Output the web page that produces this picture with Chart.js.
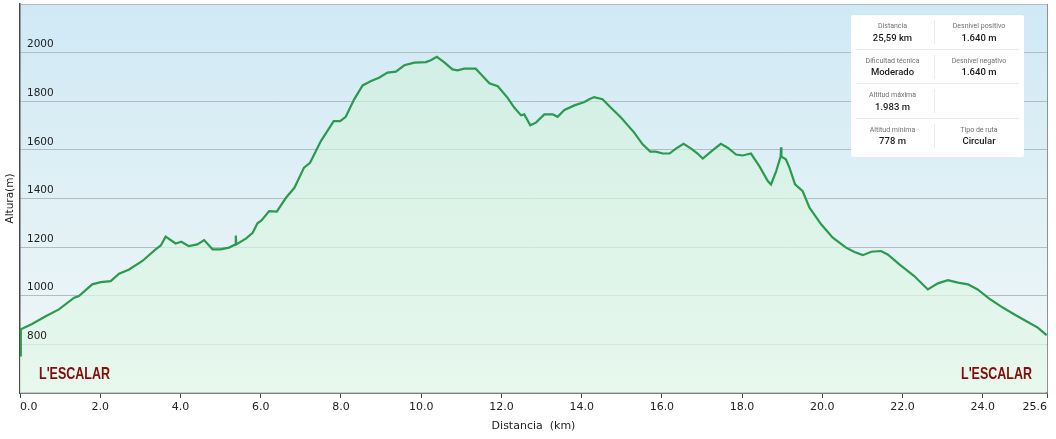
<!DOCTYPE html>
<html><head><meta charset="utf-8">
<script src="https://cdn.jsdelivr.net/npm/chart.js@4.4.1/dist/chart.umd.min.js"></script>
<style>
html,body{margin:0;padding:0;background:#fff;}
#wrap{position:relative;width:1056px;height:439px;overflow:hidden;}
canvas{display:block;}
#info{position:absolute;left:851px;top:15px;width:173px;height:142px;background:#fff;border-radius:2px;font-family:Roboto,'Noto Sans',sans-serif;}
.cell{position:absolute;height:34px;text-align:center;}
.c1{left:0;width:83px}
.c2{left:83px;width:90px}
.lab{position:absolute;left:0;right:0;top:6px;font-size:7px;color:#707070;line-height:10px;white-space:nowrap}
.val{position:absolute;left:0;right:0;top:16.5px;font-size:9.5px;color:#1a1a1a;font-weight:500;line-height:12px;white-space:nowrap}
.sep{position:absolute;left:5px;right:5px;height:1px;background:#ebebeb}
.vdiv{position:absolute;left:83px;width:1px;background:#ebebeb}
</style></head>
<body>
<div id="wrap">
<canvas id="c" width="1056" height="439"></canvas>
<div id="info"></div>
</div>
<script>
// ---- data ----
const distanceKm = [0.00,0.02,0.30,0.64,0.97,1.35,1.47,1.80,2.01,2.26,2.47,2.72,3.05,3.38,3.51,3.63,3.88,4.02,4.21,4.42,4.59,4.80,5.00,5.21,5.37,5.38,5.39,5.63,5.80,5.92,6.02,6.21,6.40,6.63,6.84,7.08,7.23,7.50,7.82,7.98,8.12,8.33,8.54,8.75,8.95,9.16,9.37,9.58,9.83,10.12,10.24,10.39,10.57,10.78,10.91,11.07,11.36,11.49,11.70,11.91,12.15,12.32,12.49,12.57,12.72,12.86,13.07,13.28,13.40,13.57,13.82,14.07,14.19,14.31,14.52,14.73,14.98,15.31,15.52,15.71,15.85,16.02,16.19,16.35,16.54,16.73,16.89,17.02,17.27,17.47,17.64,17.85,18.01,18.22,18.43,18.64,18.72,18.85,18.96,18.97,18.98,19.09,19.18,19.32,19.51,19.68,19.97,20.26,20.59,20.80,21.01,21.22,21.46,21.63,21.92,22.29,22.63,22.88,23.13,23.38,23.63,23.87,24.16,24.46,24.79,25.12,25.37,25.59];
const altitudeM = [755,862,884,916,944,992,999,1047,1056,1060,1091,1108,1143,1191,1207,1243,1215,1222,1204,1211,1229,1191,1191,1198,1211,1248,1211,1235,1259,1298,1310,1348,1346,1403,1444,1527,1547,1636,1718,1718,1736,1808,1865,1883,1897,1918,1922,1948,1959,1961,1969,1983,1961,1931,1927,1934,1934,1911,1874,1862,1815,1774,1742,1746,1701,1712,1746,1746,1736,1764,1783,1797,1808,1817,1808,1773,1733,1671,1623,1593,1593,1585,1585,1605,1625,1605,1585,1564,1599,1625,1609,1581,1577,1585,1533,1472,1458,1513,1572,1611,1572,1561,1527,1458,1430,1362,1294,1239,1198,1180,1167,1181,1184,1170,1129,1081,1026,1051,1064,1054,1047,1026,988,955,923,892,869,838];
const xTickValues = [0,2,4,6,8,10,12,14,16,18,20,22,24,25.6];
const yGridValues = [600,800,1000,1200,1400,1600,1800,2000,2200];
const yTickLabels = [800,1000,1200,1400,1600,1800,2000];
const endLabels = ["L'ESCALAR","L'ESCALAR"];
const infoLabels = [["Distancia","Desnivel positivo"],["Dificultad técnica","Desnivel negativo"],["Altitud máxima",""],["Altitud mínima","Tipo de ruta"]];
const infoValues = [["25,59 km","1.640 m"],["Moderado","1.640 m"],["1.983 m",""],["778 m","Circular"]];

// ---- info box ----
const info = document.getElementById('info');
const rowTops = [0,34.6,69.2,103.8];
infoLabels.forEach((r,i)=>{
  r.forEach((lab,j)=>{
    const d = document.createElement('div');
    d.className = 'cell ' + (j===0?'c1':'c2');
    d.style.top = rowTops[i]+'px';
    d.innerHTML = '<div class="lab"></div><div class="val"></div>';
    d.querySelector('.lab').textContent = lab;
    d.querySelector('.val').textContent = infoValues[i][j];
    info.appendChild(d);
  });
  const v = document.createElement('div');
  v.className='vdiv'; v.style.top=(rowTops[i]+5)+'px'; v.style.height='24px';
  info.appendChild(v);
  if(i>0){const s=document.createElement('div');s.className='sep';s.style.top=(rowTops[i]-1)+'px';info.appendChild(s);}
});

// ---- plugins ----
const tickFont = {family:'"DejaVu Sans", Verdana, sans-serif', size:10.5};
const bgPlugin = {
  id:'bg',
  beforeDraw(chart){
    const {ctx, chartArea:a} = chart;
    const g = ctx.createLinearGradient(0,a.top,0,a.bottom);
    g.addColorStop(0,'#cfe9f5');
    g.addColorStop(0.55,'#e2f1f6');
    g.addColorStop(1,'#f1f7f7');
    ctx.save(); ctx.fillStyle=g; ctx.fillRect(a.left,a.top,a.right-a.left,a.bottom-a.top); ctx.restore();
  },
  afterDatasetsDraw(chart){
    const {ctx, chartArea:a} = chart;
    const ys = chart.scales.y;
    ctx.save();
    ctx.font = tickFont.size+'px '+tickFont.family;
    ctx.fillStyle='#222'; ctx.textAlign='left'; ctx.textBaseline='middle';
    yTickLabels.forEach(v=>{ ctx.fillText(String(v), a.left+7, ys.getPixelForValue(v)-8); });
    ctx.restore();
  },
  afterDraw(chart){
    const {ctx, chartArea:a} = chart;
    ctx.save();
    ctx.strokeStyle='#8c9194'; ctx.lineWidth=1;
    ctx.beginPath(); ctx.moveTo(a.right+0.5,a.top); ctx.lineTo(a.right+0.5,a.bottom); ctx.stroke();
    ctx.font='bold 16.5px "Liberation Sans", Arial, sans-serif';
    ctx.fillStyle='#870b0b'; ctx.textBaseline='middle';
    ctx.textAlign='left'; ctx.fillText(endLabels[0], a.left+19, a.bottom-19, 71);
    ctx.textAlign='right'; ctx.fillText(endLabels[1], a.right-15, a.bottom-19, 71);
    ctx.restore();
  }
};

new Chart(document.getElementById('c'), {
  type:'line',
  data:{datasets:[{
    data: distanceKm.map((d,i)=>({x:d,y:altitudeM[i]})),
    borderColor:'#2a9a4c', borderWidth:2.2, pointRadius:0, tension:0,
    fill:'start',
    backgroundColor:(c)=>{
      const {ctx, chartArea:a} = c.chart; if(!a) return 'rgba(200,240,215,0.4)';
      const g = ctx.createLinearGradient(0,a.top,0,a.bottom);
      g.addColorStop(0,'rgba(205,240,215,0.55)');
      g.addColorStop(1,'rgba(228,248,234,0.75)');
      return g;
    }
  }]},
  options:{
    responsive:false, animation:false, devicePixelRatio:1,
    layout:{padding:{top:4,right:9,left:0,bottom:0}},
    plugins:{legend:{display:false}, tooltip:{enabled:false}},
    scales:{
      x:{type:'linear', min:0, max:25.6,
        afterBuildTicks:s=>{s.ticks = xTickValues.map(v=>({value:v}));},
        afterFit:s=>{s.height=46;},
        ticks:{callback:v=>Number(v).toFixed(1), font:{...tickFont,size:11}, color:'#222', align:'inner', maxRotation:0, autoSkip:false, padding:3},
        grid:{drawOnChartArea:false, drawTicks:true, tickLength:5, color:'#444', tickWidth:1},
        border:{color:'#4a4a4a', width:1.5},
        title:{display:true, text:'Distancia  (km)', color:'#222', font:{...tickFont,size:11}, padding:{top:2,bottom:6}}
      },
      y:{min:600, max:2200,
        afterBuildTicks:s=>{s.ticks = yGridValues.map(v=>({value:v}));},
        afterFit:s=>{s.width=20; s.paddingTop=0; s.paddingBottom=0;},
        ticks:{display:false},
        grid:{color:'#b3bcc0', drawTicks:false, lineWidth:1},
        border:{color:'#4a4a4a', width:1.5},
        title:{display:true, text:'Altura(m)', color:'#222', font:{...tickFont,size:10.5}, padding:{top:4,bottom:0}}
      }
    }
  },
  plugins:[bgPlugin]
});
</script>
</body></html>
